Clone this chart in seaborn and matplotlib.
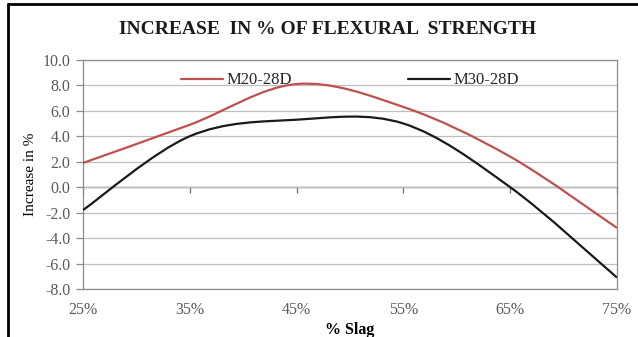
import matplotlib
matplotlib.use("Agg")
import numpy as np
import matplotlib.pyplot as plt
from matplotlib.path import Path
from matplotlib.patches import PathPatch
from matplotlib.lines import Line2D
import seaborn as sns

# Flexural strength gain relative to the control mix, per slag replacement level
slag_levels = ["25%", "35%", "45%", "55%", "65%", "75%"]
m20_28d = [1.9, 4.9, 8.1, 6.3, 2.4, -3.2]
m30_28d = [-1.8, 4.0, 5.3, 5.0, 0.0, -7.1]
y_ticks = [-8, -6, -4, -2, 0, 2, 4, 6, 8, 10]

series_names = ["M20-28D", "M30-28D"]
series_values = [m20_28d, m30_28d]
series_colors = ["#c0504d", "#1a1a1a"]

sns.set_theme(style="white")
plt.rcParams["font.family"] = ["Liberation Serif", "DejaVu Serif"]

GRID = "#bfbfbf"
FRAME = "#8c8c8c"
TICKTXT = "#595959"


def smooth_path(xs, ys):
    """Catmull-Rom style smoothing expressed as cubic Bezier segments."""
    pts = np.column_stack([xs, ys]).astype(float)
    ext = np.vstack([pts[0], pts, pts[-1]])
    verts = [pts[0]]
    codes = [Path.MOVETO]
    for i in range(len(pts) - 1):
        p0, p1, p2, p3 = ext[i], ext[i + 1], ext[i + 2], ext[i + 3]
        c1 = p1 + (p2 - p0) / 6.0
        c2 = p2 - (p3 - p1) / 6.0
        verts += [c1, c2, p2]
        codes += [Path.CURVE4] * 3
    return Path(verts, codes)


fig = plt.figure(figsize=(6.38, 3.37), dpi=100)
ax = fig.add_axes([0.130, 0.1424, 0.837, 0.680])

x_pos = np.arange(len(slag_levels))
handles = []
for name, vals, col in zip(series_names, series_values, series_colors):
    patch = PathPatch(smooth_path(x_pos, vals), facecolor="none",
                      edgecolor=col, lw=1.6, zorder=3)
    ax.add_patch(patch)
    handles.append(Line2D([], [], color=col, lw=1.6, label=name))

ax.set_xlim(0, len(slag_levels) - 1)
ax.set_ylim(min(y_ticks), max(y_ticks))

ax.set_yticks(y_ticks)
ax.set_yticklabels([f"{v:.1f}" for v in y_ticks])
ax.set_xticks(x_pos)
ax.set_xticklabels(slag_levels)

ax.grid(axis="y", color=GRID, lw=0.9, zorder=0)
ax.grid(axis="x", visible=False)
ax.set_axisbelow(True)
for s in ax.spines.values():
    s.set_visible(True)
    s.set_color(FRAME)
    s.set_linewidth(0.9)

ax.tick_params(axis="y", left=True, direction="out", length=5, width=0.9,
               color=FRAME, labelsize=11.5, labelcolor=TICKTXT, pad=4)
ax.tick_params(axis="x", bottom=False, length=0, labelsize=11.5,
               labelcolor=TICKTXT, pad=9)

# category axis crossing at zero, with tick marks between categories
zero_frac = (0 - min(y_ticks)) / (max(y_ticks) - min(y_ticks))
secax = ax.secondary_xaxis(zero_frac)
secax.set_xticks(x_pos)
secax.set_xticklabels([])
secax.tick_params(direction="out", length=4, width=0.9, color="#707070")
for s in secax.spines.values():
    s.set_color("#707070")
    s.set_linewidth(1.0)

ax.set_ylabel("Increase in %", fontsize=11, color="black", labelpad=4)
ax.set_xlabel("% Slag", fontsize=11.5, fontweight="bold", color="black", labelpad=3)

ax.legend(handles=handles, loc="upper center", bbox_to_anchor=(0.5, 1.0),
          ncol=2, frameon=False, columnspacing=7.0, handlelength=2.5,
          handletextpad=0.2, fontsize=12, borderaxespad=0.35)

fig.text(0.513, 0.911, "INCREASE  IN % OF FLEXURAL  STRENGTH",
         ha="center", va="center", fontsize=14, fontweight="bold", color="#1a1a1a")

# outer chart-area border (top and left edges)
fig.add_artist(Line2D([8 / 638, 8 / 638], [0, 1 - 4 / 337],
                      transform=fig.transFigure, color="black", lw=2))
fig.add_artist(Line2D([8 / 638, 1], [1 - 4 / 337, 1 - 4 / 337],
                      transform=fig.transFigure, color="black", lw=2))

fig.savefig("out.png", dpi=100)
